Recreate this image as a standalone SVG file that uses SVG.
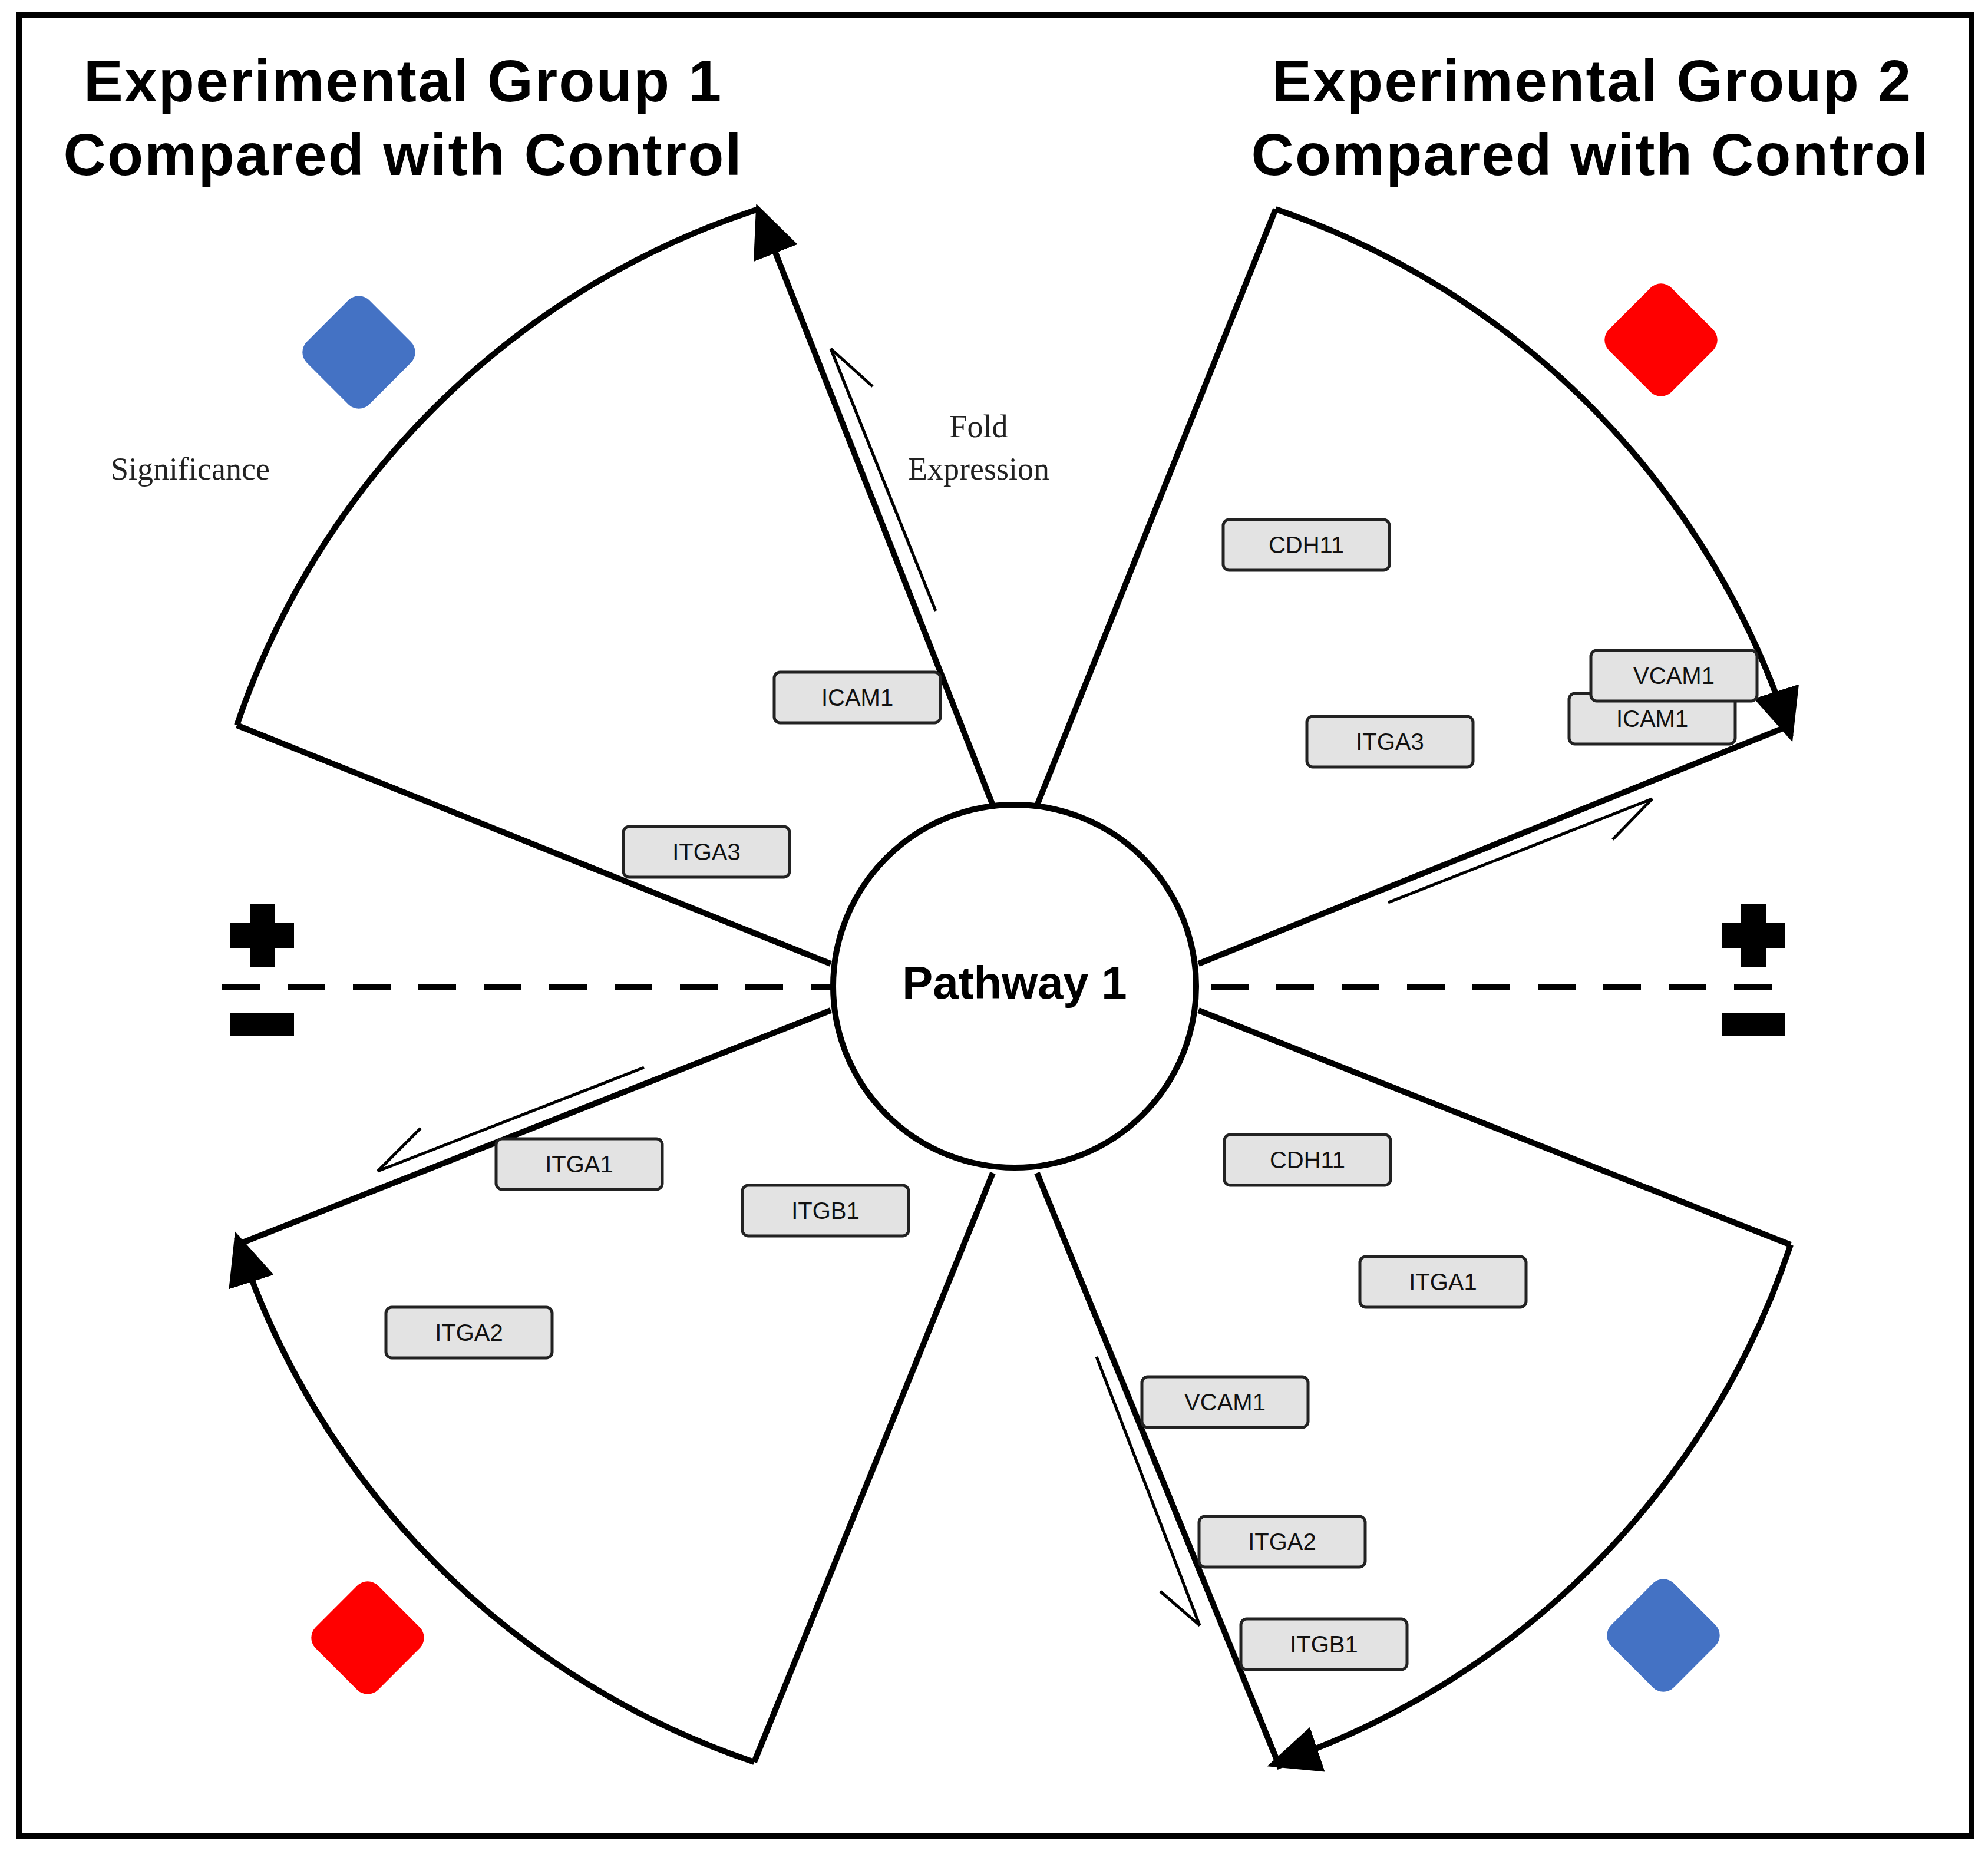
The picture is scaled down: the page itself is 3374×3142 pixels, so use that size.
<svg xmlns="http://www.w3.org/2000/svg" width="3374" height="3142" viewBox="0 0 3374 3142">
<style>
.ln{stroke:#000;stroke-width:10;fill:none}
.thin{stroke:#000;stroke-width:5;fill:none}
.bx{fill:#E3E3E3;stroke:#222;stroke-width:5}
.bt{font-family:"Liberation Sans",Arial,sans-serif;font-size:40px;fill:#111;text-anchor:middle}
.tt{font-family:"Liberation Sans",Arial,sans-serif;font-size:100px;font-weight:bold;fill:#000;text-anchor:middle}
.sr{font-family:"Liberation Serif","Times New Roman",serif;font-size:54px;fill:#222;text-anchor:middle}
</style>
<defs>
<marker id="ah" markerUnits="userSpaceOnUse" markerWidth="90" markerHeight="80" refX="80" refY="40" orient="auto"><path d="M0,0 L90,40 L0,80 z" fill="#000"/></marker>
</defs>
<rect x="32" y="26" width="3314" height="3090" fill="#fff" stroke="#000" stroke-width="10"/>
<g id="titles">
<text class="tt" x="683" y="172" textLength="1082">Experimental  Group 1</text>
<text class="tt" x="683" y="297" textLength="1151">Compared with Control</text>
<text class="tt" x="2701" y="172" textLength="1084">Experimental  Group 2</text>
<text class="tt" x="2698" y="297" textLength="1149">Compared with Control</text>
</g>
<g id="diamonds">
<rect x="534" y="523" width="150" height="150" rx="25" fill="#4472C4" transform="rotate(45 609 598)"/>
<rect x="2744" y="502" width="150" height="150" rx="25" fill="#FF0000" transform="rotate(45 2819 577)"/>
<rect x="549" y="2705" width="150" height="150" rx="25" fill="#FF0000" transform="rotate(45 624 2780)"/>
<rect x="2748" y="2701" width="150" height="150" rx="25" fill="#4472C4" transform="rotate(45 2823 2776)"/>
</g>
<g id="connectors">
<path class="ln" d="M1410,1636 L402,1231"/>
<path class="ln" d="M1685,1367 L1287,355" marker-end="url(#ah)"/>
<path class="ln" d="M402,1231 A1390,1390 0 0 1 1287,355"/>
<path class="ln" d="M1760,1367 L2165,355"/>
<path class="ln" d="M2034,1636 L3039,1231"/>
<path class="ln" d="M2165,355 A1390,1390 0 0 1 3039,1250" marker-end="url(#ah)"/>
<path class="ln" d="M2034,1715 L3039,2113"/>
<path class="ln" d="M1760,1991 L2173,3002"/>
<path class="ln" d="M3039,2113 A1390,1390 0 0 1 2160,2995" marker-end="url(#ah)"/>
<path class="ln" d="M1410,1715 L402,2113"/>
<path class="ln" d="M1685,1991 L1280,2991"/>
<path class="ln" d="M1280,2991 A1390,1390 0 0 1 402,2100" marker-end="url(#ah)"/>
<path class="thin" d="M1588,1037 L1410,592 L1481,656"/>
<path class="thin" d="M2356,1532 L2804,1356 L2737,1425"/>
<path class="thin" d="M1093,1812 L641,1988 L714,1915"/>
<path class="thin" d="M1861,2303 L2036,2759 L1969,2701"/>
<path d="M377,1676 L1410,1676 M2055,1676 L3045,1676" stroke="#000" stroke-width="10" stroke-dasharray="64,47" fill="none"/>
</g>
<g id="signs" fill="#000">
<rect x="391" y="1567" width="108" height="43"/><rect x="424" y="1534" width="43" height="108"/>
<rect x="391" y="1719" width="108" height="40"/>
<rect x="2922" y="1567" width="108" height="43"/><rect x="2955" y="1534" width="43" height="108"/>
<rect x="2922" y="1719" width="108" height="40"/>
</g>
<g id="center">
<circle cx="1722" cy="1674" r="308" fill="#fff" stroke="#000" stroke-width="10"/>
<text x="1722" y="1695" font-family="Liberation Sans,Arial,sans-serif" font-size="78" font-weight="bold" text-anchor="middle">Pathway 1</text>
</g>
<g id="axis-labels">
<text class="sr" x="323" y="814">Significance</text>
<text class="sr" x="1661" y="742">Fold</text>
<text class="sr" x="1661" y="814">Expression</text>
</g>
<g id="n1"><rect class="bx" x="1314" y="1141" width="282" height="86" rx="10"/><text class="bt" x="1455" y="1198">ICAM1</text></g>
<g id="n2"><rect class="bx" x="1058" y="1403" width="282" height="86" rx="10"/><text class="bt" x="1199" y="1460">ITGA3</text></g>
<g id="n3"><rect class="bx" x="2076" y="882" width="282" height="86" rx="10"/><text class="bt" x="2217" y="939">CDH11</text></g>
<g id="n4"><rect class="bx" x="2218" y="1216" width="282" height="86" rx="10"/><text class="bt" x="2359" y="1273">ITGA3</text></g>
<g id="n5"><rect class="bx" x="2663" y="1177" width="282" height="86" rx="10"/><text class="bt" x="2804" y="1234">ICAM1</text></g>
<g id="n6"><rect class="bx" x="2700" y="1104" width="282" height="86" rx="10"/><text class="bt" x="2841" y="1161">VCAM1</text></g>
<g id="n7"><rect class="bx" x="842" y="1933" width="282" height="86" rx="10"/><text class="bt" x="983" y="1990">ITGA1</text></g>
<g id="n8"><rect class="bx" x="1260" y="2012" width="282" height="86" rx="10"/><text class="bt" x="1401" y="2069">ITGB1</text></g>
<g id="n9"><rect class="bx" x="655" y="2219" width="282" height="86" rx="10"/><text class="bt" x="796" y="2276">ITGA2</text></g>
<g id="n10"><rect class="bx" x="2078" y="1926" width="282" height="86" rx="10"/><text class="bt" x="2219" y="1983">CDH11</text></g>
<g id="n11"><rect class="bx" x="2308" y="2133" width="282" height="86" rx="10"/><text class="bt" x="2449" y="2190">ITGA1</text></g>
<g id="n12"><rect class="bx" x="1938" y="2337" width="282" height="86" rx="10"/><text class="bt" x="2079" y="2394">VCAM1</text></g>
<g id="n13"><rect class="bx" x="2035" y="2574" width="282" height="86" rx="10"/><text class="bt" x="2176" y="2631">ITGA2</text></g>
<g id="n14"><rect class="bx" x="2106" y="2748" width="282" height="86" rx="10"/><text class="bt" x="2247" y="2805">ITGB1</text></g>
</svg>
